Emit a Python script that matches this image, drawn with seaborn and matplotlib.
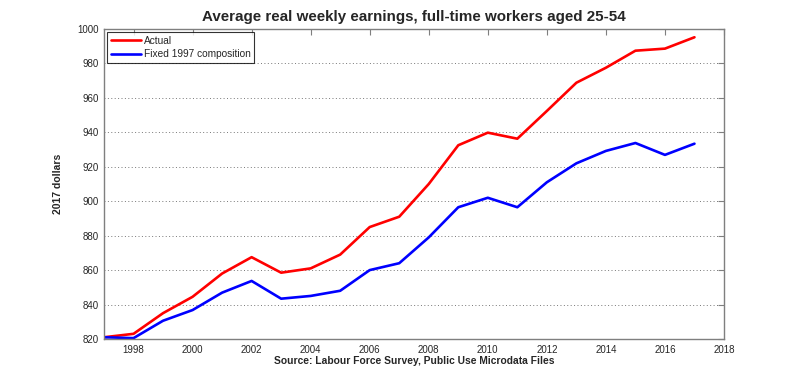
import pandas as pd
import matplotlib
matplotlib.use("Agg")
import matplotlib.pyplot as plt
import seaborn as sns

# values
years = list(range(1997, 2018))
actual = [821, 823, 835, 844.5, 858, 867.5, 858.5, 861, 869, 885, 891,
          910, 932.5, 939.8, 936.3, 952.4, 968.8, 977.5, 987.4, 988.6, 995.2]
fixed_1997 = [821, 820.5, 830.6, 836.8, 846.9, 853.7, 843.4, 845, 848, 860, 864,
              879, 896.5, 902, 896.5, 911, 922, 929.2, 933.8, 926.9, 933.4]
x_ticks = list(range(1998, 2019, 2))
y_ticks = list(range(820, 1001, 20))

df = pd.DataFrame({
    "year": years * 2,
    "value": actual + fixed_1997,
    "series": ["Actual"] * len(years) + ["Fixed 1997 composition"] * len(years),
})

sns.set_style("white")
plt.rcParams["font.family"] = ["Liberation Sans", "DejaVu Sans"]

fig = plt.figure(figsize=(8, 3.82), dpi=100)
ax = fig.add_axes([0.13, 0.1126, 0.775, 0.8115])

sns.lineplot(data=df, x="year", y="value", hue="series",
             palette={"Actual": "#ff0000", "Fixed 1997 composition": "#0000ff"},
             linewidth=1.9, ax=ax)

ax.set_xlim(1997, 2018)
ax.set_ylim(820, 1000)
ax.set_xticks(x_ticks)
ax.set_yticks(y_ticks)
ax.yaxis.grid(True, linestyle=(0, (1, 2.5)), color="#777777", linewidth=0.7)
ax.xaxis.grid(False)

for s in ax.spines.values():
    s.set_visible(True)
    s.set_color("#7f7f7f")
    s.set_linewidth(1.0)
ax.tick_params(direction="in", length=4, width=0.8, color="#7f7f7f",
               labelsize=7, top=True, right=True, pad=4)

ax.set_title("Average real weekly earnings, full-time workers aged 25-54",
             fontsize=10.9, fontweight="bold", pad=6)
ax.set_ylabel("2017 dollars", fontsize=7.5, fontweight="bold", labelpad=10)
ax.set_xlabel("Source: Labour Force Survey, Public Use Microdata Files",
              fontsize=7.4, fontweight="bold", labelpad=1)

leg = ax.legend(loc="upper left", fontsize=7.3, frameon=True, fancybox=False,
                edgecolor="black", borderaxespad=0.3, handlelength=3.0,
                handletextpad=0.3, labelspacing=0.35, borderpad=0.35)
leg.get_frame().set_linewidth(0.8)

fig.savefig("out.png", dpi=100)
